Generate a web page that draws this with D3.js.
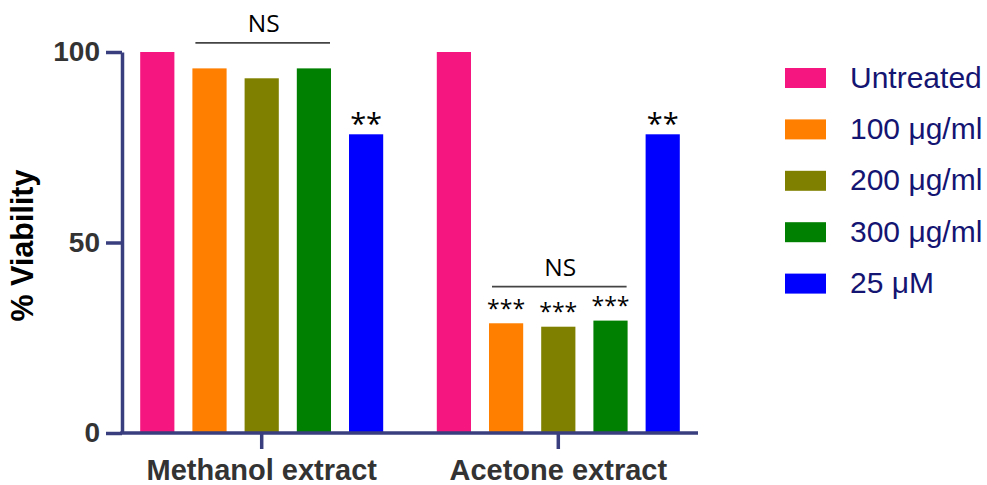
<!DOCTYPE html>
<html>
<head>
<meta charset="utf-8">
<script src="https://cdn.jsdelivr.net/npm/d3@7"></script>
<style>
  html, body { margin: 0; padding: 0; background: #fff; }
  svg { display: block; }
</style>
</head>
<body>
<svg id="chart" width="987" height="485"></svg>
<script>
// ---- data ----
const groups = ["Methanol extract", "Acetone extract"];
const series = ["Untreated", "100 μg/ml", "200 μg/ml", "300 μg/ml", "25 μM"];
const colors = ["#f5167f", "#ff7f00", "#808000", "#008000", "#0000ff"];
const methanolValues = [100, 95.7, 93.1, 95.7, 78.4];
const acetoneValues = [100, 28.8, 27.9, 29.5, 78.4];
const yTicks = [0, 50, 100];
const starLabels = [
  { group: "Methanol extract", series: "25 μM", text: "**" },
  { group: "Acetone extract", series: "100 μg/ml", text: "***" },
  { group: "Acetone extract", series: "200 μg/ml", text: "***" },
  { group: "Acetone extract", series: "300 μg/ml", text: "***" },
  { group: "Acetone extract", series: "25 μM", text: "**" }
];
const nsBrackets = [
  { group: "Methanol extract", from: "100 μg/ml", to: "300 μg/ml", level: 102.4, text: "NS" },
  { group: "Acetone extract", from: "100 μg/ml", to: "300 μg/ml", level: 38.4, text: "NS" }
];

const valuesByGroup = { "Methanol extract": methanolValues, "Acetone extract": acetoneValues };

// ---- layout ----
const svg = d3.select("#chart");
const axisColor = "#393e7e";
const mLeft = 122, mRight = 698, mTop = 52, mBottom = 433;

const x0 = d3.scaleBand().domain(groups).range([mLeft, mRight]).paddingInner(0.12).paddingOuter(0.031);
const x1 = d3.scaleBand().domain(series).range([0, x0.bandwidth()]).paddingInner(0.345).paddingOuter(0.1725);
const y = d3.scaleLinear().domain([0, 100]).range([mBottom, mTop]);
const color = d3.scaleOrdinal().domain(series).range(colors);

// bars
const g = svg.append("g");
groups.forEach(grp => {
  const vals = valuesByGroup[grp];
  g.selectAll(null)
    .data(series.map((s, i) => ({ s, v: vals[i] })))
    .enter().append("rect")
    .attr("x", d => x0(grp) + x1(d.s))
    .attr("y", d => y(d.v))
    .attr("width", x1.bandwidth())
    .attr("height", d => y(0) - y(d.v))
    .attr("fill", d => color(d.s));
});

// y axis
const yAxis = svg.append("g")
  .attr("transform", `translate(${mLeft},0)`)
  .call(d3.axisLeft(y).tickValues(yTicks).tickSize(16).tickSizeOuter(0).tickPadding(6));
yAxis.select(".domain").attr("stroke", axisColor).attr("stroke-width", 3.5);
yAxis.selectAll(".tick line").attr("stroke", axisColor).attr("stroke-width", 3.5);
yAxis.selectAll(".tick text")
  .attr("fill", "#333")
  .style("font-family", "'Liberation Sans', Arial, sans-serif")
  .style("font-weight", "bold")
  .style("font-size", "28px");

// x axis
const xAxis = svg.append("g")
  .attr("transform", `translate(0,${mBottom})`)
  .call(d3.axisBottom(x0).tickSize(16).tickSizeOuter(0).tickPadding(0));
xAxis.select(".domain").attr("stroke", axisColor).attr("stroke-width", 3.5)
  .attr("d", `M${mLeft - 1.75},0H${mRight}`);
xAxis.selectAll(".tick line").attr("stroke", axisColor).attr("stroke-width", 3.5);
xAxis.selectAll(".tick text")
  .attr("fill", "#333")
  .attr("y", 47)
  .attr("dy", null)
  .style("font-family", "'Liberation Sans', Arial, sans-serif")
  .style("font-weight", "bold")
  .style("font-size", "29px");

// y label
svg.append("text")
  .attr("transform", `translate(33,${(mTop + mBottom) / 2 + 3}) rotate(-90)`)
  .attr("text-anchor", "middle")
  .attr("fill", "#000")
  .style("font-family", "'Liberation Sans', Arial, sans-serif")
  .style("font-weight", "bold")
  .style("font-size", "30.5px")
  .text("% Viability");

// stars
starLabels.forEach(a => {
  const i = series.indexOf(a.series);
  const v = valuesByGroup[a.group][i];
  const cx = x0(a.group) + x1(a.series) + x1.bandwidth() / 2;
  const big = a.text.length === 2;
  svg.append("text")
    .attr("x", cx)
    .attr("y", y(v) + (big ? 0 : -6.5))
    .attr("text-anchor", "middle")
    .attr("fill", "#000")
    .style("font-family", "'Open Sans', sans-serif")
    .style("font-size", big ? "29px" : "23px")
    .text(a.text);
});

// NS brackets
nsBrackets.forEach(b => {
  const xa = x0(b.group) + x1(b.from) + 3;
  const xb = x0(b.group) + x1(b.to) + x1.bandwidth() - 1;
  const yy = y(b.level);
  svg.append("line")
    .attr("x1", xa).attr("x2", xb).attr("y1", yy).attr("y2", yy)
    .attr("stroke", "#444").attr("stroke-width", 1.8);
  svg.append("text")
    .attr("x", (xa + xb) / 2 + 1)
    .attr("y", yy - 10.5)
    .attr("text-anchor", "middle")
    .attr("fill", "#000")
    .style("font-family", "'Open Sans', sans-serif")
    .style("font-size", "24.5px")
    .text(b.text);
});

// legend
const legend = svg.append("g").attr("transform", "translate(785,68)");
const rows = legend.selectAll("g").data(series).enter().append("g")
  .attr("transform", (d, i) => `translate(0,${i * 51.4})`);
rows.append("rect").attr("width", 41).attr("height", 20).attr("fill", d => color(d));
rows.append("text")
  .attr("x", 65).attr("y", 19.5)
  .attr("fill", "#141472")
  .style("font-family", "'Liberation Sans', Arial, sans-serif")
  .style("font-size", "30px")
  .text(d => d);
</script>
</body>
</html>
